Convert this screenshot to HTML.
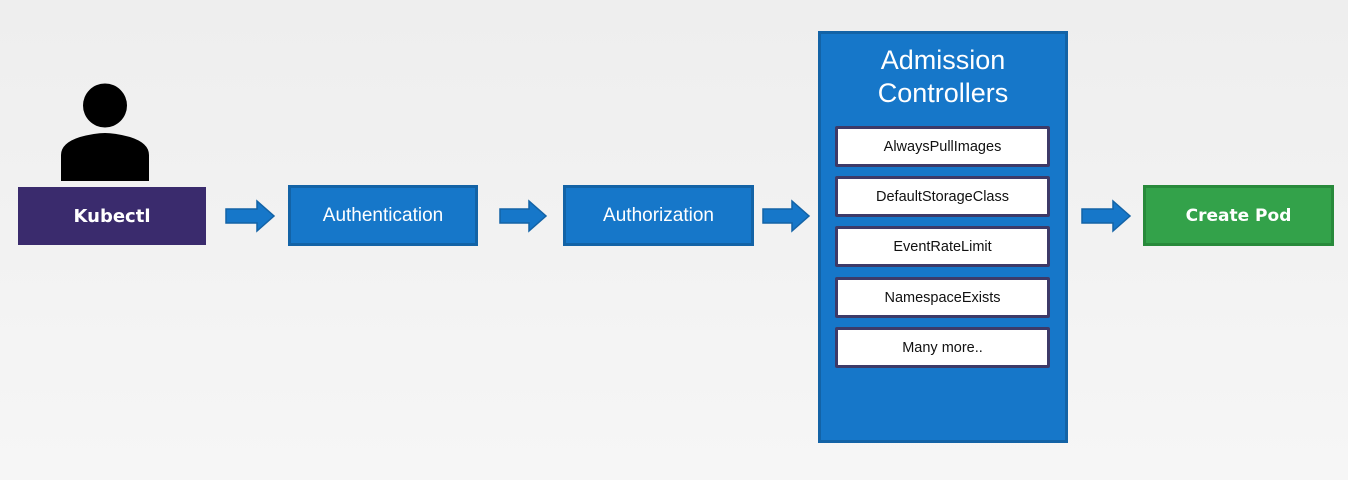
<!DOCTYPE html>
<html><head><style>
body{margin:0;width:1348px;height:480px;overflow:hidden;background:linear-gradient(#eeeeee,#f6f6f6);font-family:"Liberation Sans",sans-serif;position:relative}
.b{position:absolute;box-sizing:border-box;display:flex;align-items:center;justify-content:center;color:#fff}
.blue{background:#1677c9;border:3px solid #1363a6;font-size:19px}
.inner{position:absolute;left:835px;width:215px;height:41px;box-sizing:border-box;background:#fff;border:3px solid #3d3a68;border-radius:2px;display:flex;align-items:center;justify-content:center;font-size:14.5px;color:#111}
</style></head><body>
<svg style="position:absolute;left:0;top:0" width="1348" height="480">
<ellipse cx="105" cy="105.5" rx="22" ry="22" fill="#000"/>
<path d="M61 181 L61 155 Q61 143 80 137 Q95 133 105 133 Q115 133 130 137 Q149 143 149 155 L149 181 Z" fill="#000"/>
<g fill="#1677c9" stroke="#1363a6" stroke-width="1.5">
<path d="M226 209 H257 V201 L274 216 L257 231 V223 H226 Z"/>
<path d="M500 209 H529 V201 L546 216 L529 231 V223 H500 Z"/>
<path d="M763 209 H792 V201 L809 216 L792 231 V223 H763 Z"/>
<path d="M1082 209 H1113 V201 L1130 216 L1113 231 V223 H1082 Z"/>
</g>
</svg>
<div class="b" style="left:18px;top:187px;width:188px;height:58px;background:#3a2b6d;font-weight:bold;font-size:18px;font-family:'DejaVu Sans',sans-serif">Kubectl</div>
<div class="b blue" style="left:288px;top:185px;width:190px;height:61px">Authentication</div>
<div class="b blue" style="left:563px;top:185px;width:191px;height:61px">Authorization</div>
<div class="b blue" style="left:818px;top:31px;width:250px;height:412px;align-items:flex-start;padding-top:10px;font-size:27px;line-height:33px;text-align:center">Admission<br>Controllers</div>
<div class="inner" style="top:126px">AlwaysPullImages</div>
<div class="inner" style="top:176px">DefaultStorageClass</div>
<div class="inner" style="top:226px">EventRateLimit</div>
<div class="inner" style="top:277px">NamespaceExists</div>
<div class="inner" style="top:327px">Many more..</div>
<div class="b" style="left:1143px;top:185px;width:191px;height:61px;background:#33a24a;border:3px solid #288a3b;font-weight:bold;font-size:17px;font-family:'DejaVu Sans',sans-serif">Create Pod</div>
</body></html>
